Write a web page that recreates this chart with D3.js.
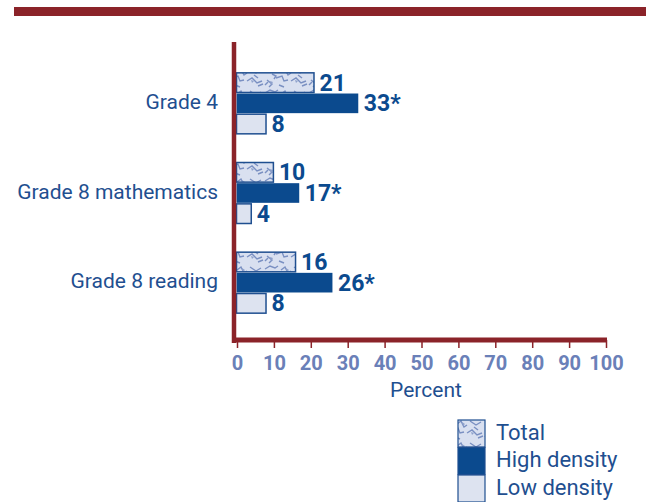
<!DOCTYPE html>
<html><head><meta charset="utf-8">
<script src="https://cdn.jsdelivr.net/npm/d3@7"></script>
<style>body{margin:0;background:#fff}svg{display:block}</style>
</head><body>
<script>
const categories = ["Grade 4", "Grade 8 mathematics", "Grade 8 reading"];
const series = ["Total", "High density", "Low density"];
const totalValues = [21, 10, 16];
const highValues = [33, 17, 26];
const lowValues = [8, 4, 8];
const highLabels = ["33*", "17*", "26*"];
const ticks = [0,10,20,30,40,50,60,70,80,90,100];

const W = 646, H = 502;
const svg = d3.select("body").append("svg").attr("width", W).attr("height", H);
const red = "#8b2329", dark = "#0b4a8e", light = "#dde3f0", edge = "#1f4f90";
const font = "Roboto, 'Liberation Sans', sans-serif";

// texture for Total
const defs = svg.append("defs");
const pat = defs.append("pattern").attr("id","tex").attr("patternUnits","userSpaceOnUse")
  .attr("width", 44).attr("height", 22);
pat.append("rect").attr("width",44).attr("height",22).attr("fill","#d9e0f0");
const squig = ["M1,5 L6,2 L11,4 L14,2","M17,6 L21,3 L24,9 L27,7","M30,3 L36,7 L41,4","M3,14 L8,18 L5,21",
  "M12,12 L18,10 L20,15 L24,14","M27,15 L32,12 L37,17 L42,15","M8,8 L12,10 L10,13","M34,9 L38,12","M1,19 L4,16",
  "M15,19 L20,21","M38,20 L43,18"];
squig.forEach(d => pat.append("path").attr("d", d).attr("fill","none").attr("stroke","#7a90c2").attr("stroke-width",1.4));
const blobs = ["M22,4 L25,6 L23,8 Z","M31,14 L34,15 L32,17 Z","M6,15 L9,16 L7,19 Z"];
blobs.forEach(d => pat.append("path").attr("d", d).attr("fill","#8fa2cc"));

// top rule
svg.append("rect").attr("x",14).attr("y",7).attr("width",W-14).attr("height",9).attr("fill",red);

const x = d3.scaleLinear().domain([0,100]).range([237,606]);
const y = d3.scaleBand().domain(categories).range([58, 327]);
const sub = d3.scaleBand().domain(series).range([0, 61]).paddingInner(0.05);
const y0 = c => y(c) + y.bandwidth()/2 - 30;

const data = categories.map((c,i) => ({c, vals:[totalValues[i], highValues[i], lowValues[i]], labs:[String(totalValues[i]), highLabels[i], String(lowValues[i])]}));
const fills = ["url(#tex)", dark, light];

const g = svg.append("g");
data.forEach(d => {
  series.forEach((s, j) => {
    const by = y0(d.c) + sub(s);
    g.append("rect").attr("x", x(0) - 0.5).attr("y", by)
      .attr("width", x(d.vals[j]) - x(0)).attr("height", sub.bandwidth())
      .attr("fill", fills[j]).attr("stroke", edge).attr("stroke-width", j===1?0:1.5);
    g.append("text").attr("x", x(d.vals[j]) + 5).attr("y", by + sub.bandwidth()/2 + 8)
      .attr("fill", dark).attr("font-family", font).attr("font-weight", "bold")
      .attr("font-size", 23).text(d.labs[j]);
  });
  svg.append("text").attr("x", 218).attr("y", y(d.c) + y.bandwidth()/2 + 6)
    .attr("text-anchor","end").attr("fill", edge).attr("font-family", font)
    .attr("font-size", 21).text(d.c);
});

// axes
svg.append("line").attr("x1",234).attr("x2",234).attr("y1",42).attr("y2",343).attr("stroke",red).attr("stroke-width",4.5);
const ax = svg.append("g").attr("transform","translate(0,340)")
  .call(d3.axisBottom(x).tickValues(ticks).tickSize(8).tickFormat(d3.format("d")));
ax.select(".domain").attr("d", `M232,0H607`).attr("stroke", red).attr("stroke-width", 5);
ax.selectAll(".tick line").attr("stroke", red).attr("stroke-width", 1.5);
ax.selectAll(".tick text").attr("fill","#6a80b8").attr("font-family", font).attr("font-weight","bold")
  .attr("font-size", 20).attr("y", 16);
svg.append("text").attr("x", 426).attr("y", 397).attr("text-anchor","middle").attr("fill", edge)
  .attr("font-family", font).attr("font-size", 21).text("Percent");

// legend
const lg = svg.append("g");
series.forEach((s, j) => {
  const ly = 420 + j*27.5;
  lg.append("rect").attr("x", 458).attr("y", ly).attr("width", 27).attr("height", 27)
    .attr("fill", fills[j]).attr("stroke", edge).attr("stroke-width", 1.2);
  lg.append("text").attr("x", 496).attr("y", ly + 19.5).attr("fill", edge)
    .attr("font-family", font).attr("font-size", 22).text(s);
});
</script>
</body></html>
